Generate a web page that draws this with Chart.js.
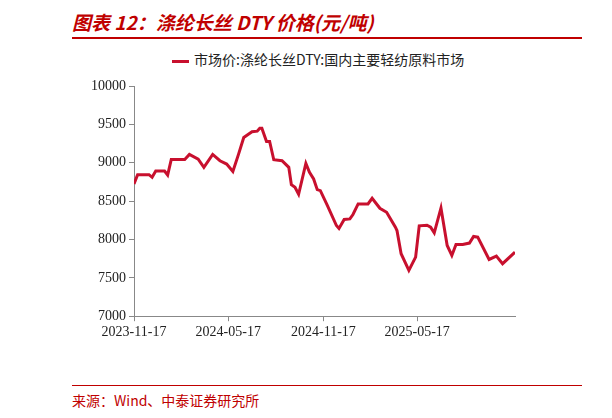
<!DOCTYPE html><html><head><meta charset="utf-8">
<script src="https://cdn.jsdelivr.net/npm/chart.js@4"></script>
<style>body{margin:0;width:612px;height:418px;position:relative;background:#fff;overflow:hidden}
#t{position:absolute;left:72px;top:8px;color:#c00000;font:italic bold 19px "Noto Sans CJK SC";}
#l1{position:absolute;left:72px;top:37px;width:510px;height:2px;background:#c00000}
#l2{position:absolute;left:72px;top:385px;width:510px;height:1px;background:#c00000}
#f{position:absolute;left:72px;top:390px;color:#c00000;font:14px "Noto Sans CJK SC"}
#lg{position:absolute;left:172px;top:49px;font:14px "Noto Sans CJK SC";color:#222}
#lg span{display:inline-block;width:17px;height:3px;background:#c8102e;vertical-align:middle;margin-right:5px}
#w{position:absolute;left:0;top:0;width:612px;height:418px}</style></head><body>
<div id="t">图表 12：涤纶长丝 DTY 价格(元/吨)</div><div id="l1"></div>
<div id="lg"><span></span>市场价:涤纶长丝DTY:国内主要轻纺原料市场</div>
<div id="l2"></div><div id="f">来源：Wind、中泰证券研究所</div>
<div id="w"><canvas id="c"></canvas></div>
<script>
const days=[0,7,29,35,42,59,65,72,98,107,124,135,152,166,179,191,202,212,228,238,243,247,256,262,270,286,299,304,311,318,332,339,347,354,360,373,391,396,406,417,423,433,452,460,475,488,505,508,516,531,544,551,566,573,580,593,605,614,622,635,648,656,664,686,700,712,736];
const prices=[8723,8844,8844,8810,8892,8892,8840,9043,9043,9108,9046,8940,9108,9026,8983,8887,9112,9329,9403,9411,9450,9450,9277,9277,9039,9026,8940,8714,8680,8589,8991,8874,8788,8649,8636,8450,8182,8143,8260,8268,8325,8463,8463,8537,8407,8355,8160,8117,7814,7597,7770,8178,8186,8160,8087,8411,7922,7792,7935,7935,7953,8039,8030,7740,7783,7684,7835];
const tickDays=[0,182,366,547];
const tickLabels=['2023-11-17','2024-05-17','2024-11-17','2025-05-17'];
const f={family:'"Liberation Serif"',size:14};
new Chart(document.getElementById('c'),{type:'line',
data:{datasets:[{data:days.map((d,i)=>({x:d,y:prices[i]})),borderColor:'#c8102e',borderWidth:3,pointRadius:0,tension:0}]},
options:{responsive:true,maintainAspectRatio:false,animation:false,
layout:{padding:{left:88,top:86,right:97,bottom:74}},
plugins:{legend:{display:false},tooltip:{enabled:false}},
scales:{x:{type:'linear',min:0,max:736,afterBuildTicks:a=>{a.ticks=tickDays.map(v=>({value:v}))},
ticks:{font:f,color:'#222',maxRotation:0,callback:v=>tickLabels[tickDays.indexOf(v)]},
grid:{drawOnChartArea:false,tickLength:5,color:'#888'},border:{color:'#888'}},
y:{min:7000,max:10000,ticks:{stepSize:500,font:f,color:'#222',callback:v=>String(v)},
grid:{drawOnChartArea:false,tickLength:5,color:'#888'},border:{color:'#888'}}}}});
</script></body></html>
